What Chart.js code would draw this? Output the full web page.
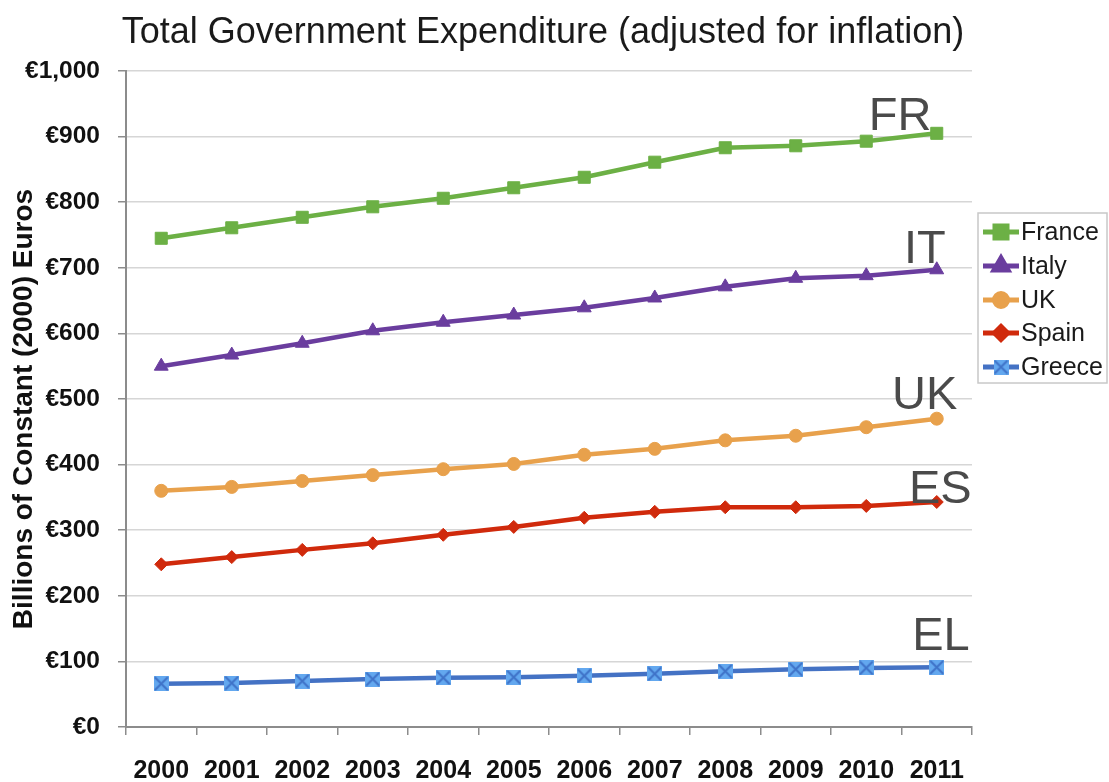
<!DOCTYPE html>
<html>
<head>
<meta charset="utf-8">
<script src="https://cdn.jsdelivr.net/npm/chart.js@4.4.1/dist/chart.umd.min.js"></script>
<style>
html,body{margin:0;padding:0;background:#fff;}
#c{display:block;}
</style>
</head>
<body>
<canvas id="c" width="1109" height="782"></canvas>
<script>
// ---- data ----
const years = ['2000','2001','2002','2003','2004','2005','2006','2007','2008','2009','2010','2011'];
const france = [745, 761, 777, 793, 806, 822, 838, 861, 883, 886, 893, 905];
const italy  = [550, 567, 585, 604, 617, 628, 639, 654, 671, 684, 688, 697];
const uk     = [360, 366, 375, 384, 393, 401, 415, 424, 437, 444, 457, 470];
const spain  = [248, 259, 270, 280, 293, 305, 319, 328, 335, 335, 337, 343];
const greece = [66, 67, 70, 73, 75, 76, 78, 81, 85, 88, 90, 91];
const seriesNames = ['France','Italy','UK','Spain','Greece'];
// country-code labels, anchored in data space (category index, value)
const codeLabels = ['FR','IT','UK','ES','EL'];
const codeLabelIndex = [10.48, 10.83, 10.83, 11.05, 11.06];
const codeLabelValue = [910, 707, 485, 341, 117];
const yMin = 0, yMax = 1000, yStep = 100;
const chartTitle = 'Total Government Expenditure (adjusted for inflation)';
const yAxisTitle = 'Billions of Constant (2000) Euros';

// Greece marker: light blue square with X
function makeGreeceMarker(){
  const s = 15, cv = document.createElement('canvas');
  cv.width = s; cv.height = s;
  const g = cv.getContext('2d');
  g.fillStyle = '#63a8ef';
  g.fillRect(0,0,s,s);
  g.strokeStyle = '#3f73c8';
  g.lineWidth = 2;
  g.beginPath();
  g.moveTo(1,1); g.lineTo(s-1,s-1);
  g.moveTo(s-1,1); g.lineTo(1,s-1);
  g.stroke();
  return cv;
}
const greeceMarker = makeGreeceMarker();

const FONT = '"Liberation Sans", Arial, Helvetica, sans-serif';

const titlePlugin = {
  id: 'customTitle',
  afterDraw(chart){
    const ctx = chart.ctx;
    ctx.save();
    ctx.font = '36px ' + FONT;
    ctx.fillStyle = '#1a1a1a';
    ctx.textAlign = 'center';
    ctx.textBaseline = 'alphabetic';
    ctx.fillText(chartTitle, 543, 43);
    // y axis title
    ctx.translate(24, 409);
    ctx.rotate(-Math.PI/2);
    ctx.font = 'bold 28px ' + FONT;
    ctx.fillStyle = '#111';
    ctx.textBaseline = 'middle';
    ctx.fillText(yAxisTitle, 0, 0);
    ctx.restore();
  }
};

const codePlugin = {
  id: 'codeLabels',
  afterDatasetsDraw(chart){
    const ctx = chart.ctx, xs = chart.scales.x, ys = chart.scales.y;
    ctx.save();
    ctx.font = '47px ' + FONT;
    ctx.fillStyle = '#4a4a4a';
    ctx.textAlign = 'center';
    ctx.textBaseline = 'alphabetic';
    codeLabels.forEach((t,i)=>{
      ctx.fillText(t, xs.getPixelForValue(codeLabelIndex[i]), ys.getPixelForValue(codeLabelValue[i]));
    });
    ctx.restore();
  }
};

const legendPlugin = {
  id: 'customLegend',
  afterDraw(chart){
    const ctx = chart.ctx;
    const bx = 978, by = 213, bw = 129, bh = 170;
    ctx.save();
    ctx.fillStyle = '#fff';
    ctx.fillRect(bx, by, bw, bh);
    ctx.strokeStyle = '#c8c8c8';
    ctx.lineWidth = 1.5;
    ctx.strokeRect(bx, by, bw, bh);
    const ys = [232, 266, 300, 333, 367];
    chart.data.datasets.forEach((ds,i)=>{
      const y = ys[i];
      ctx.strokeStyle = ds.borderColor;
      ctx.lineWidth = 5;
      ctx.beginPath();
      ctx.moveTo(983, y); ctx.lineTo(1019, y);
      ctx.stroke();
      ctx.fillStyle = ds.pointBackgroundColor;
      ctx.strokeStyle = ds.pointBorderColor;
      Chart.helpers.drawPoint(ctx, {pointStyle: ds.pointStyle, radius: ds.pointRadius, rotation: 0, borderWidth: 1}, 1001, y);
      ctx.fillStyle = '#1a1a1a';
      ctx.font = '25px ' + FONT;
      ctx.textAlign = 'left';
      ctx.textBaseline = 'middle';
      ctx.fillText(ds.label, 1021, y + 1);
    });
    ctx.restore();
  }
};

function mk(label, data, color, style, radius, ptFill){
  return {
    label, data,
    borderColor: color,
    backgroundColor: color,
    pointBackgroundColor: ptFill || color,
    pointBorderColor: ptFill || color,
    pointStyle: style,
    pointRadius: radius,
    pointHoverRadius: radius,
    pointBorderWidth: 1,
    borderWidth: 4.5,
    tension: 0,
    fill: false
  };
}

new Chart(document.getElementById('c'), {
  type: 'line',
  data: {
    labels: years,
    datasets: [
      mk(seriesNames[0], france, '#6cb045', 'rect', 8.5),
      mk(seriesNames[1], italy,  '#6a3d9e', 'triangle', 8),
      mk(seriesNames[2], uk,     '#e8a14c', 'circle', 6.5),
      mk(seriesNames[3], spain,  '#d02a0c', 'rectRot', 6.5),
      mk(seriesNames[4], greece, '#4472c4', greeceMarker, 7.5, '#63a8ef')
    ]
  },
  options: {
    responsive: false,
    animation: false,
    devicePixelRatio: 1,
    layout: { padding: { top: 71, left: 0, right: 137, bottom: 0 } },
    plugins: {
      legend: { display: false },
      title: { display: false },
      tooltip: { enabled: false }
    },
    scales: {
      x: {
        type: 'category',
        offset: true,
        grid: {
          offset: true,
          drawOnChartArea: true,
          color: (c) => (c.index === years.length ? '#b8b8b8' : 'rgba(0,0,0,0)'),
          tickColor: '#8c8c8c',
          tickLength: 8,
          lineWidth: 1.5
        },
        border: { color: '#8c8c8c', width: 2 },
        ticks: {
          color: '#111',
          font: { family: FONT, size: 25, weight: 'bold' },
          padding: 21,
          maxRotation: 0,
          autoSkip: false
        },
        afterFit(s){ s.height = 55; }
      },
      y: {
        min: yMin, max: yMax,
        ticks: {
          stepSize: yStep,
          color: '#111',
          font: { family: FONT, size: 24.5, weight: 'bold' },
          padding: 18,
          callback: (v) => '€' + Number(v).toLocaleString('en-US')
        },
        grid: {
          color: '#d6d6d6',
          tickColor: '#8c8c8c',
          tickLength: 8,
          lineWidth: 1.5
        },
        border: { color: '#8c8c8c', width: 2 },
        title: { display: false },
        afterFit(s){ s.width = 126; }
      }
    }
  },
  plugins: [titlePlugin, codePlugin, legendPlugin]
});
</script>
</body>
</html>
